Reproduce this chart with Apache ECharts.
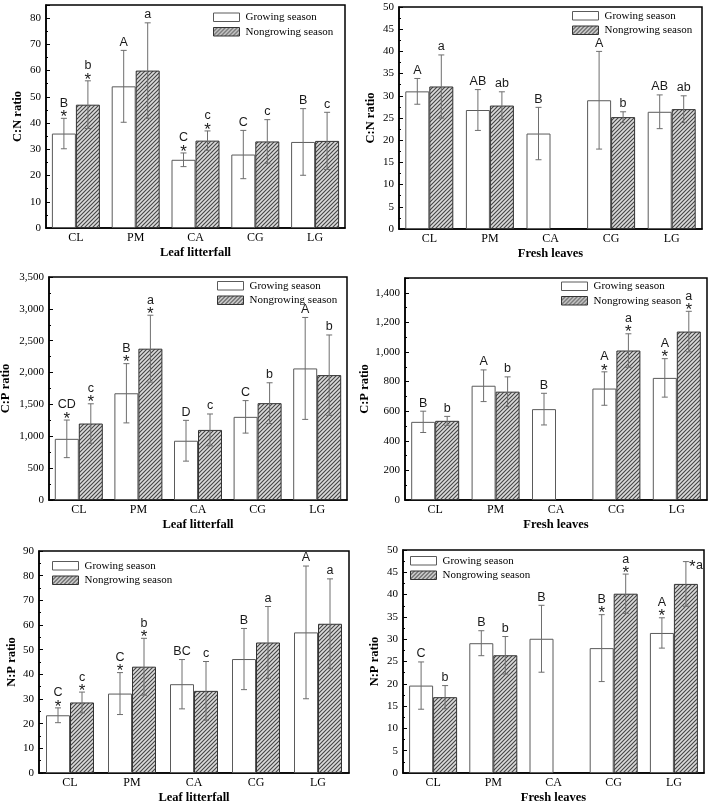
<!DOCTYPE html>
<html><head><meta charset="utf-8">
<script src="https://cdn.jsdelivr.net/npm/echarts@6/dist/echarts.min.js"></script>
<style>html,body{margin:0;padding:0;background:#fff}#c{width:709px;height:804px}</style>
</head><body><div id="c"></div>
<script>
// ---------- DATA ----------
const categories = ['CL', 'PM', 'CA', 'CG', 'LG'];
const seriesNames = ['Growing season', 'Nongrowing season'];

// Panel 1: C:N ratio, leaf litterfall
const cnLitterGrowMean = [36, 54, 26, 28, 32.8];
const cnLitterGrowSD   = [5.8, 13.7, 2.6, 9.2, 12.7];
const cnLitterNonMean  = [47, 60, 33.3, 33, 33.2];
const cnLitterNonSD    = [9.1, 18.2, 3.7, 8.3, 10.9];
const cnLitterGrowLetters = ['B', 'A', 'C', 'C', 'B'];
const cnLitterNonLetters  = ['b', 'a', 'c', 'c', 'c'];
const cnLitterGrowStars = [1, 0, 1, 0, 0];
const cnLitterNonStars  = [1, 0, 1, 0, 0];

// Panel 2: C:N ratio, fresh leaves
const cnFreshGrowMean = [31, 26.8, 21.5, 29, 26.4];
const cnFreshGrowSD   = [2.9, 4.6, 5.9, 11, 3.8];
const cnFreshNonMean  = [32.1, 27.8, null, 25.2, 27];
const cnFreshNonSD    = [7.1, 3.1, null, 1.2, 3];
const cnFreshGrowLetters = ['A', 'AB', 'B', 'A', 'AB'];
const cnFreshNonLetters  = ['a', 'ab', '', 'b', 'ab'];
const cnFreshGrowStars = [0, 0, 0, 0, 0];
const cnFreshNonStars  = [0, 0, 0, 0, 0];

// Panel 3: C:P ratio, leaf litterfall
const cpLitterGrowMean = [960, 1675, 930, 1305, 2065];
const cpLitterGrowSD   = [295, 465, 320, 255, 800];
const cpLitterNonMean  = [1200, 2375, 1100, 1520, 1960];
const cpLitterNonSD    = [310, 525, 250, 320, 630];
const cpLitterGrowLetters = ['CD', 'B', 'D', 'C', 'A'];
const cpLitterNonLetters  = ['c', 'a', 'c', 'b', 'b'];
const cpLitterGrowStars = [1, 1, 0, 0, 0];
const cpLitterNonStars  = [1, 1, 0, 0, 0];

// Panel 4: C:P ratio, fresh leaves
const cpFreshGrowMean = [528, 772, 614, 753, 825];
const cpFreshGrowSD   = [72, 107, 107, 113, 130];
const cpFreshNonMean  = [535, 732, null, 1010, 1138];
const cpFreshNonSD    = [30, 100, null, 113, 137];
const cpFreshGrowLetters = ['B', 'A', 'B', 'A', 'A'];
const cpFreshNonLetters  = ['b', 'b', '', 'a', 'a'];
const cpFreshGrowStars = [0, 0, 0, 1, 1];
const cpFreshNonStars  = [0, 0, 0, 1, 1];

// Panel 5: N:P ratio, leaf litterfall
const npLitterGrowMean = [23.4, 32.2, 36, 46.2, 57];
const npLitterGrowSD   = [3, 8.5, 10, 12.4, 26.9];
const npLitterNonMean  = [28.6, 43.1, 33.3, 52.9, 60.5];
const npLitterNonSD    = [4.2, 11.5, 11.9, 14.6, 18.2];
const npLitterGrowLetters = ['C', 'C', 'BC', 'B', 'A'];
const npLitterNonLetters  = ['c', 'b', 'c', 'a', 'a'];
const npLitterGrowStars = [1, 1, 0, 0, 0];
const npLitterNonStars  = [1, 1, 0, 0, 0];

// Panel 6: N:P ratio, fresh leaves
const npFreshGrowMean = [19.6, 29.1, 30.1, 28, 31.4];
const npFreshGrowSD   = [5.3, 2.8, 7.5, 7.5, 3.4];
const npFreshNonMean  = [17, 26.4, null, 40.2, 42.4];
const npFreshNonSD    = [2.6, 4.2, null, 4.4, 5];
const npFreshGrowLetters = ['C', 'B', 'B', 'B', 'A'];
const npFreshNonLetters  = ['b', 'b', '', 'a', 'a'];
const npFreshGrowStars = [0, 0, 0, 1, 1];
const npFreshNonStars  = [0, 0, 0, 1, 1];
const npFreshNonSideLabel = [0, 0, 0, 0, 1];   // "*a" written beside the error bar

// ---------- PANELS ----------
const panels = [
  { yName: 'C:N ratio', xName: 'Leaf litterfall', max: 85, interval: 10, showMax: false,
    grow: [cnLitterGrowMean, cnLitterGrowSD, cnLitterGrowLetters, cnLitterGrowStars],
    non: [cnLitterNonMean, cnLitterNonSD, cnLitterNonLetters, cnLitterNonStars],
    box: { left: 46, top: 5, width: 299, height: 223 }, nameGap: 22, legend: { left: 213, top: 11.5 } },
  { yName: 'C:N ratio', xName: 'Fresh leaves', max: 50, interval: 5, showMax: true,
    grow: [cnFreshGrowMean, cnFreshGrowSD, cnFreshGrowLetters, cnFreshGrowStars],
    non: [cnFreshNonMean, cnFreshNonSD, cnFreshNonLetters, cnFreshNonStars],
    box: { left: 399, top: 7, width: 303, height: 222 }, nameGap: 22, legend: { left: 572, top: 10 } },
  { yName: 'C:P ratio', xName: 'Leaf litterfall', max: 3500, interval: 500, showMax: true,
    grow: [cpLitterGrowMean, cpLitterGrowSD, cpLitterGrowLetters, cpLitterGrowStars],
    non: [cpLitterNonMean, cpLitterNonSD, cpLitterNonLetters, cpLitterNonStars],
    box: { left: 49, top: 277, width: 298, height: 223 }, nameGap: 37, legend: { left: 217, top: 280 } },
  { yName: 'C:P ratio', xName: 'Fresh leaves', max: 1500, interval: 200, showMax: false,
    grow: [cpFreshGrowMean, cpFreshGrowSD, cpFreshGrowLetters, cpFreshGrowStars],
    non: [cpFreshNonMean, cpFreshNonSD, cpFreshNonLetters, cpFreshNonStars],
    box: { left: 405, top: 278, width: 302, height: 222 }, nameGap: 30, legend: { left: 561, top: 280.5 } },
  { yName: 'N:P ratio', xName: 'Leaf litterfall', max: 90, interval: 10, showMax: true,
    grow: [npLitterGrowMean, npLitterGrowSD, npLitterGrowLetters, npLitterGrowStars],
    non: [npLitterNonMean, npLitterNonSD, npLitterNonLetters, npLitterNonStars],
    box: { left: 39, top: 551, width: 310, height: 222 }, nameGap: 21, legend: { left: 52, top: 560 } },
  { yName: 'N:P ratio', xName: 'Fresh leaves', max: 50, interval: 5, showMax: true,
    grow: [npFreshGrowMean, npFreshGrowSD, npFreshGrowLetters, npFreshGrowStars],
    non: [npFreshNonMean, npFreshNonSD, npFreshNonLetters, npFreshNonStars, npFreshNonSideLabel],
    box: { left: 403, top: 550, width: 301, height: 223 }, nameGap: 22, legend: { left: 410, top: 555 } }
];

// ---------- STYLE ----------
const SERIF = '"Liberation Serif", "Times New Roman", serif';
const SANS = '"Liberation Sans", Arial, sans-serif';
const BAR_W = 24;
const ERR_COLOR = '#6e6e6e';

function hatchCanvas() {
  const c = document.createElement('canvas');
  c.width = 4; c.height = 4;
  const g = c.getContext('2d');
  g.fillStyle = '#dadada'; g.fillRect(0, 0, 4, 4);
  g.strokeStyle = '#444'; g.lineWidth = 1.1;
  g.beginPath();
  g.moveTo(-1, 5); g.lineTo(5, -1);
  g.moveTo(-1, 1); g.lineTo(1, -1);
  g.moveTo(3, 5); g.lineTo(5, 3);
  g.stroke();
  return c;
}
const HATCH = { image: hatchCanvas(), repeat: 'repeat' };

function fmt(v) { return String(v).replace(/\B(?=(\d{3})+(?!\d))/g, ','); }

function errRenderer(letters, stars, side, sign) {
  return function (params, api) {
    const i = params.dataIndex;
    const m = api.value(1), sd = api.value(2);
    if (m == null || isNaN(m)) return null;
    const base = api.coord([api.value(0), m]);
    const cx = base[0] + sign * BAR_W / 2;
    const yTop = api.coord([api.value(0), m + sd])[1];
    const yBot = api.coord([api.value(0), m - sd])[1];
    const ls = { stroke: ERR_COLOR, lineWidth: 1 };
    const ch = [
      { type: 'line', shape: { x1: cx, y1: yTop, x2: cx, y2: yBot }, style: ls },
      { type: 'line', shape: { x1: cx - 3, y1: yTop, x2: cx + 3, y2: yTop }, style: ls },
      { type: 'line', shape: { x1: cx - 3, y1: yBot, x2: cx + 3, y2: yBot }, style: ls }
    ];
    const font = '12.5px ' + SANS;
    const starFont = '17px ' + SANS;
    const letter = letters[i];
    if (side && side[i]) {
      ch.push({ type: 'text', style: { text: '*', x: cx + 3, y: yTop + 6, align: 'left', verticalAlign: 'middle', font: starFont, fill: '#1a1a1a' } });
      ch.push({ type: 'text', style: { text: letter, x: cx + 10, y: yTop + 4, align: 'left', verticalAlign: 'middle', font: font, fill: '#1a1a1a' } });
    } else {
      let y;
      if (stars[i]) {
        ch.push({ type: 'text', style: { text: '*', x: cx, y: yTop - 1, align: 'center', verticalAlign: 'middle', font: starFont, fill: '#1a1a1a' } });
        y = yTop - 15;
      } else {
        y = yTop - 8;
      }
      if (letter) ch.push({ type: 'text', style: { text: letter, x: cx, y: y, align: 'center', verticalAlign: 'middle', font: font, fill: '#1a1a1a' } });
    }
    return { type: 'group', children: ch };
  };
}

const option = {
  animation: false,
  backgroundColor: '#fff',
  grid: [], xAxis: [], yAxis: [], legend: [], series: []
};

panels.forEach((p, k) => {
  option.grid.push(Object.assign({ show: true, borderColor: '#000', borderWidth: 1.5, outerBoundsMode: 'none', containLabel: false }, p.box));
  option.xAxis.push({
    gridIndex: k, type: 'category', data: categories,
    axisLine: { lineStyle: { color: '#000', width: 1.5 } },
    axisTick: { show: false },
    axisLabel: { color: '#000', fontFamily: SERIF, fontSize: 12, margin: 4 },
    name: p.xName, nameLocation: 'middle', nameGap: 18,
    nameTextStyle: { fontFamily: SERIF, fontWeight: 'bold', fontSize: 12.5, color: '#000' }
  });
  option.yAxis.push({
    gridIndex: k, type: 'value', min: 0, max: p.max, interval: p.interval,
    axisLine: { show: true, lineStyle: { color: '#000', width: 1.5 } },
    axisTick: { show: true, inside: true, length: 4, lineStyle: { color: '#000' } },
    minorTick: { show: true, splitNumber: 2, length: 2, lineStyle: { color: '#000' } },
    splitLine: { show: false },
    axisLabel: { color: '#000', fontFamily: SERIF, fontSize: 11, margin: 5, showMaxLabel: p.showMax, formatter: fmt },
    name: p.yName, nameLocation: 'middle', nameGap: p.nameGap, nameRotate: 90,
    nameTextStyle: { fontFamily: SERIF, fontWeight: 'bold', fontSize: 12.5, color: '#000' }
  });
  option.legend.push({
    data: seriesNames, orient: 'vertical', left: p.legend.left, top: p.legend.top,
    padding: 0, itemGap: 3, itemWidth: 26, itemHeight: 8.5, icon: 'rect',
    selectedMode: false,
    itemStyle: { borderWidth: 1 },
    textStyle: { fontFamily: SERIF, fontSize: 11, color: '#000', lineHeight: 11.5, padding: [0, 0, 0, 1] }
  });
  option.series.push({
    type: 'bar', name: seriesNames[0], xAxisIndex: k, yAxisIndex: k, data: p.grow[0],
    barWidth: BAR_W, barGap: '0%', silent: true,
    itemStyle: { color: '#fff', borderColor: '#5a5a5a', borderWidth: 1 }
  });
  option.series.push({
    type: 'bar', name: seriesNames[1], xAxisIndex: k, yAxisIndex: k, data: p.non[0],
    barWidth: BAR_W, barGap: '0%', silent: true,
    itemStyle: { color: HATCH, borderColor: '#333', borderWidth: 1 }
  });
  [[p.grow, -1], [p.non, 1]].forEach(([s, sign]) => {
    option.series.push({
      type: 'custom', xAxisIndex: k, yAxisIndex: k, silent: true, z: 5, clip: false,
      data: categories.map((c, i) => [i, s[0][i] == null ? NaN : s[0][i], s[1][i] == null ? NaN : s[1][i]]),
      renderItem: errRenderer(s[2], s[3], s[4], sign)
    });
  });
});

const chart = echarts.init(document.getElementById('c'), null, { renderer: 'canvas' });
chart.setOption(option);
</script>
</body></html>
